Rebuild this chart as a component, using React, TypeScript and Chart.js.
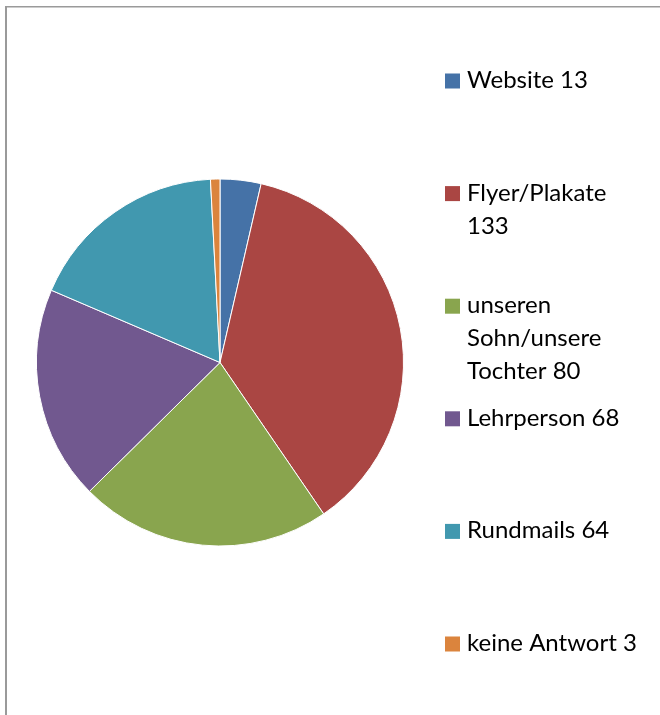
import { useEffect, useRef } from "react";
import { Chart, registerables } from "chart.js";

Chart.register(...registerables);

const categories = [
  "Website",
  "Flyer/Plakate",
  "unseren Sohn/unsere Tochter",
  "Lehrperson",
  "Rundmails",
  "keine Antwort",
];
const values = [13, 133, 80, 68, 64, 3];
const colors = ["#4572A7", "#AA4643", "#89A54E", "#71588F", "#4198AF", "#DB843D"];

const W = 660;
const H = 715;

function wrap(ctx: CanvasRenderingContext2D, text: string, maxW: number): string[] {
  const words = text.split(" ");
  const lines: string[] = [];
  let cur = "";
  for (const w of words) {
    const test = cur ? cur + " " + w : w;
    if (cur && ctx.measureText(test).width > maxW) {
      lines.push(cur);
      cur = w;
    } else {
      cur = test;
    }
  }
  if (cur) lines.push(cur);
  return lines;
}

const framePlugin = {
  id: "frame",
  beforeDraw(chart: any) {
    const ctx = chart.ctx as CanvasRenderingContext2D;
    ctx.save();
    ctx.fillStyle = "#ffffff";
    ctx.fillRect(0, 0, W, H);
    ctx.fillStyle = "#9a9a9a";
    ctx.fillRect(5, 6, 2, H);
    ctx.fillRect(5, 6, W, 1.5);
    ctx.restore();
  },
  afterDraw(chart: any) {
    const ctx = chart.ctx as CanvasRenderingContext2D;
    ctx.save();
    ctx.font = "24px Lato";
    ctx.textBaseline = "alphabetic";
    ctx.textAlign = "left";
    categories.forEach((c, i) => {
      const base = 88 + i * 112.6;
      ctx.fillStyle = colors[i];
      ctx.fillRect(445, base - 14.5, 15, 15);
      ctx.fillStyle = "#000000";
      const lines = wrap(ctx, `${c} ${values[i]}`, 178);
      lines.forEach((ln, j) => ctx.fillText(ln, 467, base + j * 33));
    });
    ctx.restore();
  },
};

export default function App() {
  const ref = useRef<HTMLCanvasElement | null>(null);
  useEffect(() => {
    if (!ref.current) return;
    const chart = new Chart(ref.current, {
      type: "pie",
      data: {
        labels: categories,
        datasets: [
          {
            data: values,
            backgroundColor: colors,
            borderColor: "#ffffff",
            borderWidth: 1,
          },
        ],
      },
      options: {
        responsive: false,
        animation: false,
        layout: { padding: { left: 36, right: 256, top: 178, bottom: 168 } },
        plugins: {
          legend: { display: false },
          tooltip: { enabled: false },
        },
      },
      plugins: [framePlugin],
    });
    return () => chart.destroy();
  }, []);
  return (
    <div style={{ position: "fixed", left: 0, top: 0, width: W, height: H, overflow: "hidden" }}>
      <canvas ref={ref} width={W} height={H} style={{ display: "block" }} />
    </div>
  );
}
